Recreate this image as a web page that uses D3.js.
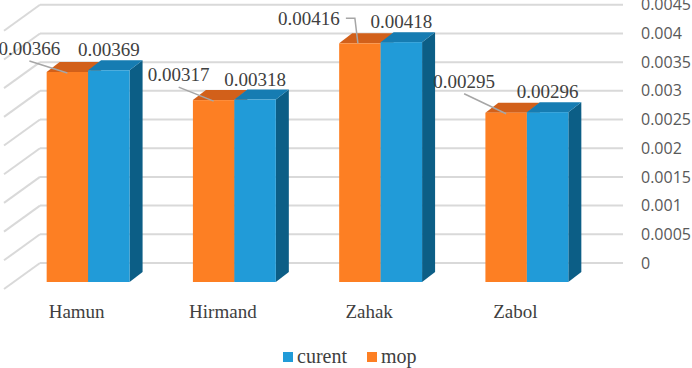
<!DOCTYPE html>
<html>
<head>
<meta charset="utf-8">
<script src="https://cdn.jsdelivr.net/npm/d3@7"></script>
<style>
  body { margin: 0; background: #fff; }
  svg { display: block; }
  .serif { font-family: 'Liberation Serif', 'Tinos', 'Times New Roman', 'DejaVu Serif', serif; }
</style>
</head>
<body>
<div id="chart"></div>
<script>
const categories = ['Hamun', 'Hirmand', 'Zahak', 'Zabol'];
const mopValues = [0.00366, 0.00317, 0.00416, 0.00295];
const curentValues = [0.00369, 0.00318, 0.00418, 0.00296];
const mopLabels = ['0.00366', '0.00317', '0.00416', '0.00295'];
const curentLabels = ['0.00369', '0.00318', '0.00418', '0.00296'];
const yTicks = [0, 0.0005, 0.001, 0.0015, 0.002, 0.0025, 0.003, 0.0035, 0.004, 0.0045];
const yTickLabels = ['0', '0.0005', '0.001', '0.0015', '0.002', '0.0025', '0.003', '0.0035', '0.004', '0.0045'];
const seriesNames = ['mop', 'curent'];

// where the mop labels were dragged to in the original (offset from bar top), and leader style
const mopLabelShift = [[-38, -17], [-35, -19], [-51, -18], [-42, -25]];
const mopLeaderSide = [false, false, true, false];

const width = 692;
const height = 368;

const colors = {
    mop: { front: '#FD7F23', top: '#D2601A', side: '#B8561A' },
    curent: { front: '#219BD8', top: '#167CB2', side: '#0C5E86' }
};

// 3d depth of the bars and of the back wall
const depth = { dx: 13, dy: -10 };
const wall = { left: 40, right: 623, dy: -19, sideDx: -36, sideDy: 26 };

const svg = d3.select('#chart').append('svg')
    .attr('width', width)
    .attr('height', height);

const x = d3.scaleBand()
    .domain(categories)
    .range([15, 600])
    .paddingInner(0.433)
    .paddingOuter(0.2165);

const xs = d3.scaleBand()
    .domain(seriesNames)
    .range([0, x.bandwidth()]);

// front plane of the bars
const y = d3.scaleLinear().domain([0, 0.0045]).range([282, 23.8]);
const yWall = v => y(v) + wall.dy;

// back wall + left wall grid
const grid = svg.append('g').attr('class', 'grid');
grid.selectAll('.hline')
    .data(yTicks)
    .enter().append('line')
    .attr('x1', wall.left)
    .attr('x2', wall.right)
    .attr('y1', d => yWall(d))
    .attr('y2', d => yWall(d))
    .attr('stroke', '#D9D9D9')
    .attr('stroke-width', 2);

grid.selectAll('.dline')
    .data(yTicks)
    .enter().append('line')
    .attr('x1', wall.left)
    .attr('x2', wall.left + wall.sideDx)
    .attr('y1', d => yWall(d))
    .attr('y2', d => yWall(d) + wall.sideDy)
    .attr('stroke', '#D9D9D9')
    .attr('stroke-width', 2);

// right axis labels
svg.append('g')
    .selectAll('text')
    .data(yTicks)
    .enter().append('text')
    .attr('x', 641)
    .attr('y', d => yWall(d))
    .attr('dy', '0.35em')
    .attr('font-family', '"Open Sans", sans-serif')
    .attr('font-size', 16)
    .attr('fill', '#595959')
    .text((d, i) => yTickLabels[i]);

// bars
const rows = [];
categories.forEach((c, i) => {
    rows.push({ cat: c, series: 'mop', value: mopValues[i] });
    rows.push({ cat: c, series: 'curent', value: curentValues[i] });
});

function drawBar(g, d) {
    const x0 = x(d.cat) + xs(d.series);
    const x1 = x0 + xs.bandwidth();
    const top = y(d.value);
    const bottom = y(0);
    const c = colors[d.series];
    const { dx, dy } = depth;

    g.append('path')
        .attr('d', `M${x1},${top}L${x1 + dx},${top + dy}L${x1 + dx},${bottom + dy}L${x1},${bottom}Z`)
        .attr('fill', c.side);
    g.append('path')
        .attr('d', `M${x0},${top}L${x0 + dx},${top + dy}L${x1 + dx},${top + dy}L${x1},${top}Z`)
        .attr('fill', c.top);
    g.append('rect')
        .attr('x', x0)
        .attr('y', top)
        .attr('width', x1 - x0)
        .attr('height', bottom - top)
        .attr('fill', c.front);
}

const barsG = svg.append('g').attr('class', 'bars');
rows.forEach(d => drawBar(barsG, d));

// data labels
const labels = svg.append('g')
    .attr('class', 'serif')
    .attr('font-size', 19)
    .attr('fill', '#404040');

categories.forEach((c, i) => {
    // curent: straight above the bar
    const cx = x(c) + xs('curent') + xs.bandwidth() / 2;
    labels.append('text')
        .attr('x', cx)
        .attr('y', y(curentValues[i]) - 14)
        .attr('text-anchor', 'middle')
        .text(curentLabels[i]);

    // mop: moved up-left with leader line
    const mx = x(c) + xs('mop') + xs.bandwidth() / 2;
    const mt = y(mopValues[i]);
    const lx = mx + mopLabelShift[i][0];
    const ly = mt + mopLabelShift[i][1];
    labels.append('text')
        .attr('x', lx)
        .attr('y', ly)
        .attr('text-anchor', 'middle')
        .text(mopLabels[i]);

    let path;
    if (mopLeaderSide[i]) {
        path = `M${lx + 37},${ly - 7}L${mx - 5},${ly - 7}L${mx - 2},${mt}`;
    } else {
        path = `M${lx},${ly + 6}L${mx},${mt + 1}`;
    }
    svg.append('path')
        .attr('d', path)
        .attr('fill', 'none')
        .attr('stroke', '#A6A6A6')
        .attr('stroke-width', 1.5);
});

// category labels
svg.append('g')
    .selectAll('text')
    .data(categories)
    .enter().append('text')
    .attr('class', 'serif')
    .attr('x', d => x(d) + x.bandwidth() / 2 - 11.5)
    .attr('y', 318)
    .attr('text-anchor', 'middle')
    .attr('font-size', 19)
    .attr('fill', '#404040')
    .text(d => d);

// legend
const legendItems = [
    { name: 'curent', color: colors.curent.front, x: 283 },
    { name: 'mop', color: colors.mop.front, x: 367 }
];
const legend = svg.append('g');
legendItems.forEach(item => {
    legend.append('rect')
        .attr('x', item.x)
        .attr('y', 352)
        .attr('width', 10)
        .attr('height', 10)
        .attr('fill', item.color);
    legend.append('text')
        .attr('class', 'serif')
        .attr('x', item.x + 14)
        .attr('y', 363)
        .attr('font-size', 20)
        .attr('fill', '#404040')
        .text(item.name);
});
</script>
</body>
</html>
